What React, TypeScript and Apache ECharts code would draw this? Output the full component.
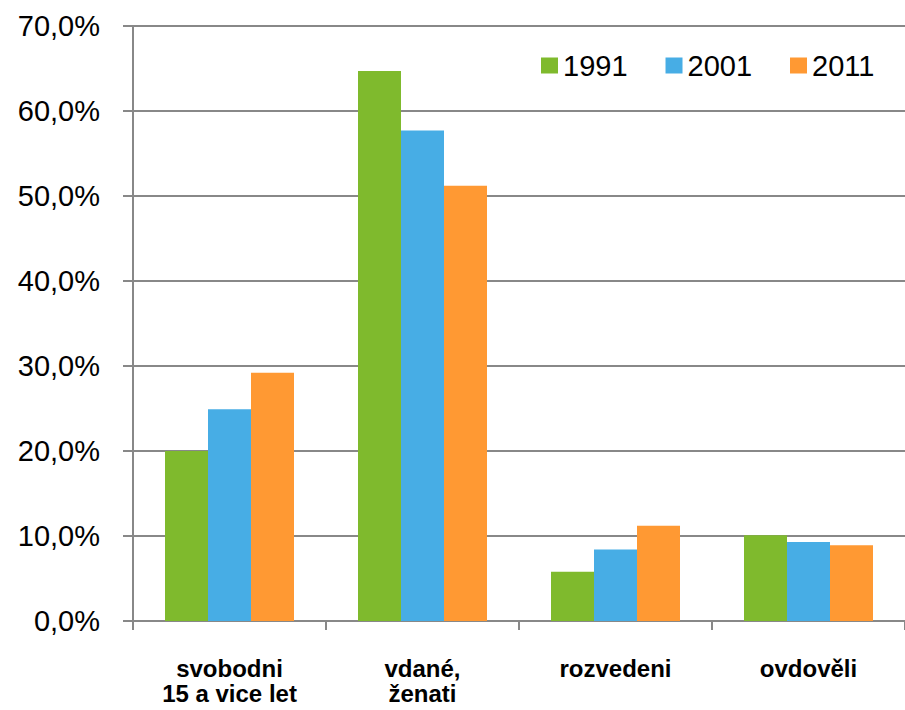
import React, { useEffect, useRef } from "react";
import * as echarts from "echarts";

const categories = ["svobodni\n15 a vice let", "vdané,\nženati", "rozvedeni", "ovdověli"];
const seriesNames = ["1991", "2001", "2011"];
const values1991 = [20.0, 64.7, 5.8, 10.1];
const values2001 = [24.9, 57.7, 8.4, 9.3];
const values2011 = [29.2, 51.2, 11.2, 8.9];
const colors = ["#7FBA2D", "#47ADE5", "#FF9933"];

export default function App() {
  const ref = useRef<HTMLDivElement>(null);
  useEffect(() => {
    if (!ref.current) return;
    const chart = echarts.init(ref.current, undefined, { renderer: "svg" });
    const data = [values1991, values2001, values2011];
    chart.setOption({
      animation: false,
      backgroundColor: "#ffffff",
      textStyle: { fontFamily: "Liberation Sans, Arial, sans-serif" },
      legend: {
        data: seriesNames,
        top: 46,
        left: 536,
        itemWidth: 17,
        itemHeight: 16,
        itemGap: 38,
        icon: "rect",
        textStyle: { fontSize: 29, color: "#000", padding: [0, 0, 0, 0] },
      },
      grid: { left: 133, right: -6, top: 26, bottom: 89 },
      xAxis: {
        type: "category",
        data: categories,
        axisLine: { lineStyle: { color: "#888888", width: 2 } },
        axisTick: { show: true, length: 9, lineStyle: { color: "#888888", width: 2 } },
        axisLabel: {
          fontSize: 24,
          fontWeight: "bold",
          color: "#000",
          lineHeight: 25,
          margin: 35,
          interval: 0,
        },
      },
      yAxis: {
        type: "value",
        min: 0,
        max: 70,
        interval: 10,
        axisLine: { show: true, lineStyle: { color: "#888888", width: 2 } },
        axisTick: { show: true, length: 10, lineStyle: { color: "#888888", width: 2 } },
        splitLine: { lineStyle: { color: "#888888", width: 2 } },
        axisLabel: {
          fontSize: 29,
          color: "#000",
          margin: 33,
          formatter: (v: number) => v.toFixed(1).replace(".", ",") + "%",
        },
      },
      series: seriesNames.map((name, i) => ({
        name,
        type: "bar",
        data: data[i],
        barWidth: 43,
        barGap: "0%",
        itemStyle: { color: colors[i] },
      })),
    });
    return () => chart.dispose();
  }, []);
  return (
    <div
      ref={ref}
      style={{ position: "fixed", left: 0, top: 0, width: 905, height: 710 }}
    />
  );
}
